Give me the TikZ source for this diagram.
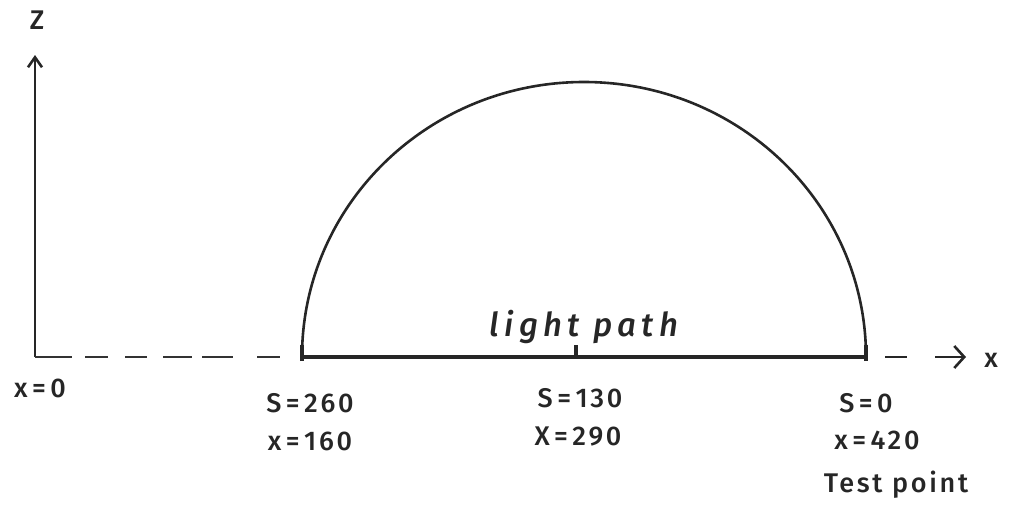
\documentclass[tikz,border=0pt]{standalone}
\usepackage{fontspec}
\setmainfont{Fira Sans}
\newfontfamily\hand[LetterSpace=10]{Fira Sans Medium}
\newfontfamily\handit[LetterSpace=16]{Fira Sans Medium Italic}
\usetikzlibrary{arrows.meta}
\begin{document}
\begin{tikzpicture}[x=1pt,y=-1pt,
  lbl/.style={font=\hand\fontsize{27}{30}\selectfont, inner sep=0pt, text=black!85},
  axis/.style={line width=2.6pt, draw=black!85},
  dashaxis/.style={line width=2.6pt, draw=black!80,
    dash pattern=on 37pt off 13pt on 23pt off 17pt on 22pt off 16pt on 29pt off 10pt on 31pt off 24pt on 23pt off 40pt},
  pathline/.style={line width=4pt, draw=black!85},
  arc/.style={line width=2.6pt, draw=black!85},
  tick/.style={line width=3.2pt, draw=black!85}]
\useasboundingbox (0,0) rectangle (1009,506);
\coordinate (O) at (35,357);
\coordinate (Zt) at (35,55);
\coordinate (A) at (302,357);
\coordinate (M) at (576,357);
\coordinate (B) at (866,357);
\coordinate (D1) at (885,357);
\coordinate (D2) at (907,357);
\coordinate (D3) at (935,357);
\coordinate (E) at (966,357);
% axes
\draw[axis, -{Straight Barb[length=10pt,width=14pt]}] (O) -- (Zt);
\draw[dashaxis] (O) -- (A);
\draw[axis] (D1) -- (D2);
\draw[axis, -{Straight Barb[length=10pt,width=22pt]}] (D3) -- (E);
% light path
\draw[pathline] (A) -- (B);
\draw[tick] ([yshift=-4pt]A) -- ([yshift=12pt]A);
\draw[tick] (M) -- ([yshift=12pt]M);
\draw[tick] ([yshift=-4pt]B) -- ([yshift=12pt]B);
% semicircle
\draw[arc] (A) arc[start angle=180, end angle=360, x radius=282, y radius=275];
% labels
\node[lbl] (zl) at (37,20) {Z};
\node[lbl] (xl) at (991,360) {x};
\node[lbl, font=\handit\fontsize{33}{36}\selectfont] (lp) at (584,327) {light path};
\node[lbl] (x0) at (40,388) {x\,=\,0};
\node[lbl] (s260) at (310,403) {S\,=\,260};
\node[lbl] (x160) at (310,441) {x\,=\,160};
\node[lbl] (s130) at (580,398) {S\,=\,130};
\node[lbl] (x290) at (578,437) {X\,=\,290};
\node[lbl] (s0) at (866,403) {S\,=\,0};
\node[lbl] (x420) at (877,440) {x\,=\,420};
\node[lbl] (tp) at (896,485) {Test point};
\end{tikzpicture}
\end{document}
